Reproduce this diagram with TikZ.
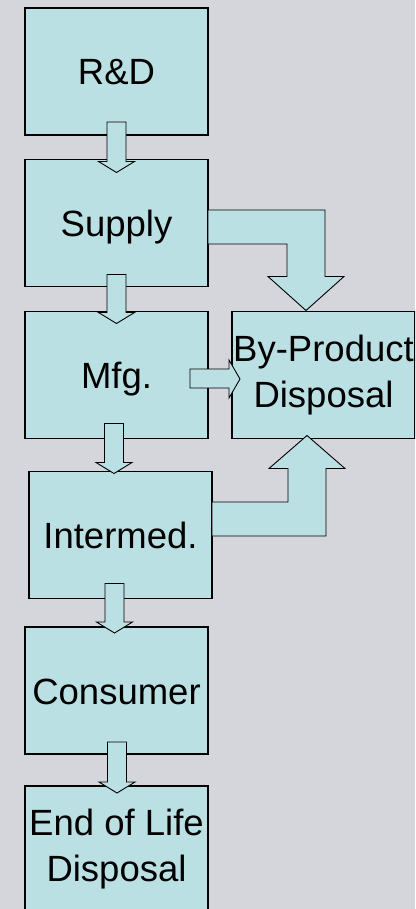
\documentclass[tikz,border=0pt]{standalone}
\usepackage{fontspec}
\setmainfont{Liberation Sans}
\usetikzlibrary{calc}
\definecolor{slide}{RGB}{212,214,219}
\definecolor{stagefill}{RGB}{187,224,228}
\tikzset{
	stage/.style={draw=black, line width=1.2pt, fill=stagefill, minimum width=183pt, minimum height=127pt,
		inner sep=0pt, outer sep=0pt, align=center, font=\fontsize{36.5}{46}\selectfont},
	oneline/.style={text height=27pt, text depth=0pt},
	flow/.style={draw=black, line width=0.9pt, fill=stagefill, line join=miter}
}
% block arrow pointing down: [x shift:inset into source:depth into target](source)(target)
\def\blockdown[#1:#2:#3](#4)(#5){%
	\coordinate (s) at ($(#4.south)+(#1,-#2)$);
	\coordinate (t) at ($(s |- #5.north)+(0,#3)$);
	\draw[flow] ($(s)+(-9.5,0)$) -- ($(t)+(-9.5,-11)$) -- ($(t)+(-18,-11)$) -- (t)
		-- ($(t)+(18,-11)$) -- ($(t)+(9.5,-11)$) -- ($(s)+(9.5,0)$) -- cycle;}

\begin{document}
\begin{tikzpicture}[x=1pt, y=-1pt]
			%%%%% START %%%%%
			\useasboundingbox (0, 0) rectangle (415, 909);
			\fill[slide] (0, 0) rectangle (415, 909);
			\clip (0, 0) rectangle (415, 909);
			
			% life cycle stages
			\node[stage, oneline] (RnD) at (116.5, 71.5) {R\&D};
			\node[stage, oneline] (Supply) at (116.5, 223) {Supply};
			\node[stage, oneline] (Mfg) at (116.5, 375) {Mfg.};
			\node[stage] (ByProd) at (323.5, 375) {By-Product\\Disposal};
			\node[stage, oneline] (Intermed) at (120.5, 535) {Intermed.};
			\node[stage, oneline] (Consumer) at (116.5, 690.5) {Consumer};
			\node[stage] (EndLife) at (116.5, 849.5) {End of Life\\Disposal};
			
			% main chain
			\blockdown[0:13:13](RnD)(Supply)
			\blockdown[0:12:12](Supply)(Mfg)
			\blockdown[-2.5:15:2](Mfg)(Intermed)
			\blockdown[-6:15:6](Intermed)(Consumer)
			\blockdown[0.5:12:7](Consumer)(EndLife)
			
			% side flows into by-product disposal
			\draw[flow] ($(Supply.east)+(0,-13)$) -| ($(ByProd.north)+(1.5,-35)$) -- ++(19,0)
				-- ($(ByProd.north)+(-17.5,-1)$) -- ++(-38,-34) -- ++(19,0) |- ($(Supply.east)+(0,21)$) -- cycle;
			\draw[flow] ($(Mfg.east)+(-18,-6)$) -- ($(ByProd.west)+(-3,-6)$) -- ++(0,-9)
				-- ($(ByProd.west)+(8,4)$) -- ++(-11,19) -- ++(0,-10) -- ($(Mfg.east)+(-18,13)$) -- cycle;
			\draw[flow] ($(Intermed.east)+(0,-33)$) -| ($(ByProd.south)+(-35.5,30)$) -- ++(-19,0)
				-- ($(ByProd.south)+(-16.5,-3)$) -- ++(38,33) -- ++(-19,0) |- ($(Intermed.east)+(0,1)$) -- cycle;
			%%%%% END %%%%%
\end{tikzpicture}
\end{document}
